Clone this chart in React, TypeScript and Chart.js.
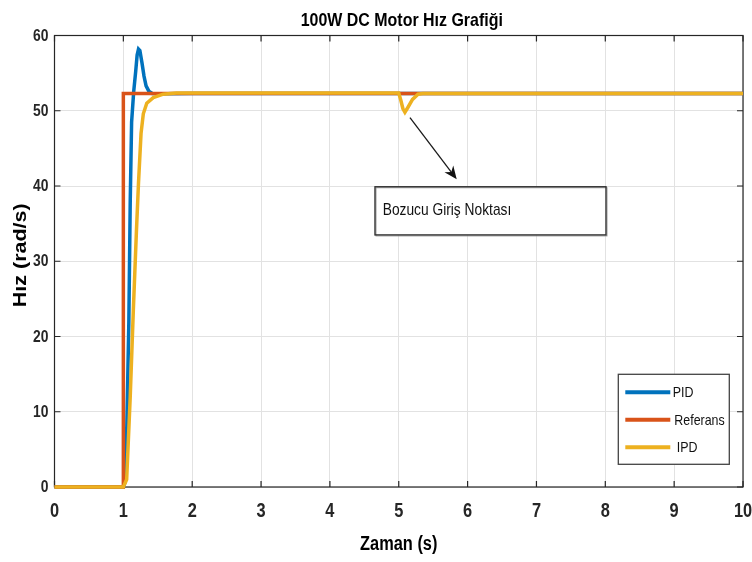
import React, { useEffect, useRef } from "react";
import { Chart, registerables } from "chart.js";

Chart.register(...registerables);

// ---- data ----
const seriesLabels = ["PID", "Referans", "IPD"];
const seriesColors = ["#0072BD", "#D95319", "#EDB120"];

const pidTime = [0, 1.0, 1.02, 1.05, 1.08, 1.1, 1.12, 1.15, 1.18, 1.2, 1.22, 1.24, 1.27, 1.3, 1.33, 1.37, 1.42, 1.6, 2.0, 10];
const pidSpeed = [0, 0, 0.5, 8, 22, 38, 48.5, 52.5, 55.3, 57.4, 58.2, 58.0, 56.4, 54.6, 53.3, 52.6, 52.3, 52.25, 52.3, 52.3];

const refTime = [0, 1, 1, 10];
const refSpeed = [0, 0, 52.3, 52.3];

const ipdTime = [0, 1.0, 1.048, 1.1, 1.145, 1.19, 1.22, 1.257, 1.29, 1.34, 1.435, 1.58, 1.77, 5.0, 5.03, 5.06, 5.09, 5.13, 5.2, 5.28, 5.35, 10];
const ipdSpeed = [0, 0, 1, 12, 23.5, 34, 40.4, 47, 49.6, 51, 51.75, 52.2, 52.35, 52.35, 51.4, 50.3, 49.8, 50.4, 51.5, 52.2, 52.3, 52.3];

const xTickValues = [0, 1, 2, 3, 4, 5, 6, 7, 8, 9, 10];
const yTickValues = [0, 10, 20, 30, 40, 50, 60];

const chartTitle = "100W DC Motor Hız Grafiği";
const xTitle = "Zaman (s)";
const yTitle = "Hız (rad/s)";

const noteText = "Bozucu Giriş Noktası";
const noteBox = [4.655, 39.9, 8.01, 33.5]; // x1, y1, x2, y2 in data units
const noteTextPos = [4.767, 36.1];
const arrowFrom = [5.163, 49.1];
const arrowTo = [5.842, 40.9];

const FONT = "'Liberation Sans', Arial, Helvetica, sans-serif";
const SQ = 0.84; // horizontal squeeze of the original picture

const toPoints = (xs: number[], ys: number[]) => xs.map((x, i) => ({ x, y: ys[i] }));

function drawText(
  ctx: CanvasRenderingContext2D,
  text: string,
  x: number,
  y: number,
  font: string,
  align: CanvasTextAlign,
  baseline: CanvasTextBaseline,
  color: string
) {
  ctx.save();
  ctx.translate(x, y);
  ctx.scale(SQ, 1);
  ctx.font = font;
  ctx.textAlign = align;
  ctx.textBaseline = baseline;
  ctx.fillStyle = color;
  ctx.fillText(text, 0, 0);
  ctx.restore();
}

const framePlugin = {
  id: "matlabFrame",
  beforeDatasetsDraw(chart: any) {
    const { ctx, chartArea } = chart;
    const { left, right, top, bottom } = chartArea;
    const xs = chart.scales.x;
    const ys = chart.scales.y;
    ctx.save();
    ctx.strokeStyle = "#262626";
    ctx.lineWidth = 1.2;
    ctx.strokeRect(left, top, right - left, bottom - top);
    ctx.beginPath();
    xTickValues.forEach((v) => {
      const px = xs.getPixelForValue(v);
      ctx.moveTo(px, bottom);
      ctx.lineTo(px, bottom - 6);
      ctx.moveTo(px, top);
      ctx.lineTo(px, top + 6);
    });
    yTickValues.forEach((v) => {
      const py = ys.getPixelForValue(v);
      ctx.moveTo(left, py);
      ctx.lineTo(left + 6, py);
      ctx.moveTo(right, py);
      ctx.lineTo(right - 6, py);
    });
    ctx.stroke();
    ctx.restore();

    // tick labels
    xTickValues.forEach((v) => {
      drawText(ctx, String(v), xs.getPixelForValue(v), bottom + 30, `bold 19.5px ${FONT}`, "center", "alphabetic", "#262626");
    });
    yTickValues.forEach((v) => {
      drawText(ctx, String(v), left - 6, ys.getPixelForValue(v) + 0.5, `bold 16.5px ${FONT}`, "right", "middle", "#262626");
    });

    // titles
    const cx = (left + right) / 2;
    drawText(ctx, chartTitle, cx + 3, 26, `bold 19px ${FONT}`, "center", "alphabetic", "#000");
    drawText(ctx, xTitle, cx, bottom + 62.7, `bold 19.5px ${FONT}`, "center", "alphabetic", "#000");

    ctx.save();
    ctx.translate(20.7, (top + bottom) / 2 - 6);
    ctx.rotate(-Math.PI / 2);
    ctx.scale(1, SQ);
    ctx.font = `bold 21.5px ${FONT}`;
    ctx.textAlign = "center";
    ctx.textBaseline = "middle";
    ctx.fillStyle = "#000";
    ctx.fillText(yTitle, 0, 0);
    ctx.restore();
  },
  afterDatasetsDraw(chart: any) {
    const { ctx, chartArea } = chart;
    const xs = chart.scales.x;
    const ys = chart.scales.y;
    ctx.save();

    // annotation arrow
    const ax1 = xs.getPixelForValue(arrowFrom[0]);
    const ay1 = ys.getPixelForValue(arrowFrom[1]);
    const ax2 = xs.getPixelForValue(arrowTo[0]);
    const ay2 = ys.getPixelForValue(arrowTo[1]);
    const ang = Math.atan2(ay2 - ay1, ax2 - ax1);
    const headLen = 13;
    const headW = 5.5;
    const bx = ax2 - Math.cos(ang) * headLen;
    const by = ay2 - Math.sin(ang) * headLen;
    ctx.strokeStyle = "#1a1a1a";
    ctx.lineWidth = 1.3;
    ctx.beginPath();
    ctx.moveTo(ax1, ay1);
    ctx.lineTo(bx + Math.cos(ang) * 4, by + Math.sin(ang) * 4);
    ctx.stroke();
    ctx.fillStyle = "#111";
    ctx.beginPath();
    ctx.moveTo(ax2, ay2);
    ctx.lineTo(bx - Math.sin(ang) * headW, by + Math.cos(ang) * headW);
    ctx.lineTo(bx + Math.cos(ang) * 4, by + Math.sin(ang) * 4);
    ctx.lineTo(bx + Math.sin(ang) * headW, by - Math.cos(ang) * headW);
    ctx.closePath();
    ctx.fill();

    // annotation box
    const nx1 = xs.getPixelForValue(noteBox[0]);
    const ny1 = ys.getPixelForValue(noteBox[1]);
    const nx2 = xs.getPixelForValue(noteBox[2]);
    const ny2 = ys.getPixelForValue(noteBox[3]);
    ctx.fillStyle = "#ffffff";
    ctx.fillRect(nx1, ny1, nx2 - nx1, ny2 - ny1);
    ctx.strokeStyle = "#9a9a9a";
    ctx.lineWidth = 1;
    ctx.strokeRect(nx1 + 1, ny1 + 1, nx2 - nx1, ny2 - ny1);
    ctx.strokeStyle = "#333333";
    ctx.lineWidth = 1.4;
    ctx.strokeRect(nx1, ny1, nx2 - nx1, ny2 - ny1);
    drawText(ctx, noteText, xs.getPixelForValue(noteTextPos[0]), ys.getPixelForValue(noteTextPos[1]), `16.4px ${FONT}`, "left", "alphabetic", "#111");

    // legend
    const lgRight = chartArea.right - 13.7;
    const lgBottom = chartArea.bottom - 22.7;
    const lgW = 111;
    const lgH = 90;
    const lgLeft = lgRight - lgW;
    const lgTop = lgBottom - lgH;
    ctx.fillStyle = "#ffffff";
    ctx.fillRect(lgLeft, lgTop, lgW, lgH);
    ctx.strokeStyle = "#444";
    ctx.lineWidth = 1.3;
    ctx.strokeRect(lgLeft, lgTop, lgW, lgH);
    seriesLabels.forEach((lab, i) => {
      const yy = lgTop + 18 + i * 27.5;
      ctx.strokeStyle = seriesColors[i];
      ctx.lineWidth = 4;
      ctx.beginPath();
      ctx.moveTo(lgLeft + 7, yy);
      ctx.lineTo(lgLeft + 52, yy);
      ctx.stroke();
      drawText(ctx, lab, lgLeft + 54.5 + (i === 2 ? 4 : i === 1 ? 1.5 : 0), yy + 1, `14.8px ${FONT}`, "left", "middle", "#111");
    });

    ctx.restore();
  },
};

export default function App() {
  const canvasRef = useRef<HTMLCanvasElement | null>(null);

  useEffect(() => {
    document.body.style.margin = "0";
    const canvas = canvasRef.current;
    if (!canvas) return;
    const ds = [
      { data: toPoints(pidTime, pidSpeed), order: 3 },
      { data: toPoints(refTime, refSpeed), order: 2 },
      { data: toPoints(ipdTime, ipdSpeed), order: 1 },
    ].map((d, i) => ({
      label: seriesLabels[i],
      data: d.data,
      order: d.order,
      borderColor: seriesColors[i],
      backgroundColor: seriesColors[i],
      borderWidth: 3.5,
      pointRadius: 0,
      tension: 0,
      fill: false,
      clip: 4,
    }));

    const chart = new Chart(canvas, {
      type: "line",
      data: { datasets: ds as any },
      options: {
        animation: false,
        responsive: false,
        maintainAspectRatio: false,
        devicePixelRatio: 1,
        layout: { padding: { left: 0, right: 9, top: 35.5, bottom: 0 } },
        plugins: {
          legend: { display: false },
          tooltip: { enabled: false },
          title: { display: false },
        },
        scales: {
          x: {
            type: "linear",
            min: 0,
            max: 10,
            afterBuildTicks: (s: any) => {
              s.ticks = xTickValues.map((v) => ({ value: v }));
            },
            afterFit: (s: any) => {
              s.height = 75;
              s.paddingLeft = 0;
              s.paddingRight = 0;
            },
            ticks: { display: false },
            grid: { color: "#e2e2e2", drawTicks: false, lineWidth: 1 },
            border: { display: false },
          },
          y: {
            type: "linear",
            min: 0,
            max: 60,
            afterBuildTicks: (s: any) => {
              s.ticks = yTickValues.map((v) => ({ value: v }));
            },
            afterFit: (s: any) => {
              s.width = 54.5;
              s.paddingTop = 0;
              s.paddingBottom = 0;
            },
            ticks: { display: false },
            grid: { color: "#e2e2e2", drawTicks: false, lineWidth: 1 },
            border: { display: false },
          },
        },
      },
      plugins: [framePlugin],
    });
    return () => chart.destroy();
  }, []);

  return (
    <div style={{ position: "absolute", left: 0, top: 0, width: 752, height: 562, background: "#fff" }}>
      <canvas ref={canvasRef} width={752} height={562} style={{ width: 752, height: 562, display: "block" }} />
    </div>
  );
}
